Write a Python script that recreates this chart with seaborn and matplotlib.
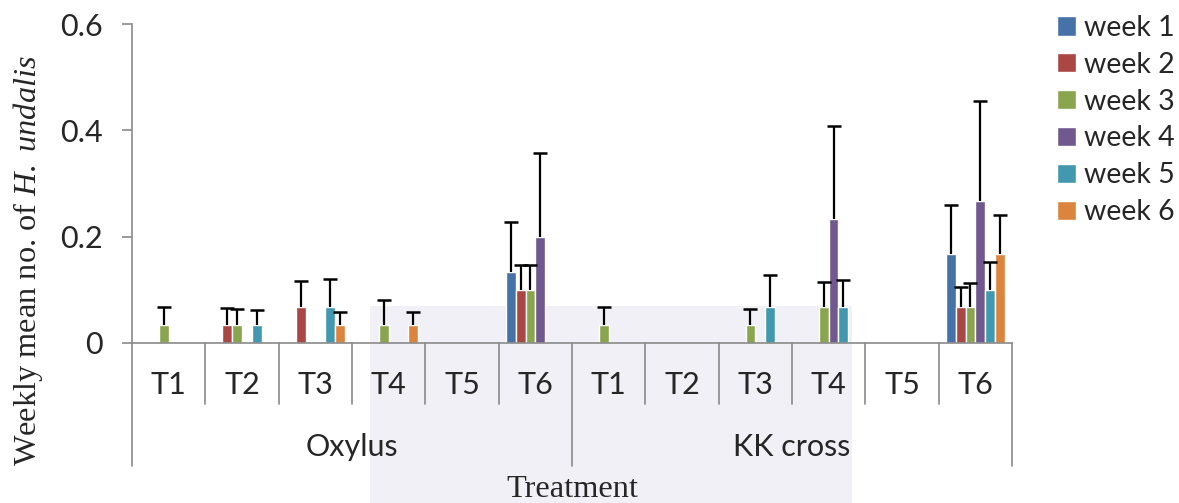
import numpy as np
import pandas as pd
import matplotlib
matplotlib.use("Agg")
import matplotlib.pyplot as plt
import seaborn as sns
from matplotlib.patches import Rectangle
from matplotlib.transforms import blended_transform_factory

# ---------------- data ----------------
treatments = ["T1", "T2", "T3", "T4", "T5", "T6"]
crosses = ["Oxylus", "KK cross"]
weeks = ["week 1", "week 2", "week 3", "week 4", "week 5", "week 6"]

#          Oxylus T1..T6                      KK cross T1..T6
week1 = [0, 0, 0, 0, 0, 0.133,              0, 0, 0, 0, 0, 0.167]
week2 = [0, 0.033, 0.067, 0, 0, 0.100,      0, 0, 0, 0, 0, 0.067]
week3 = [0.033, 0.033, 0, 0.033, 0, 0.100,  0.033, 0, 0.033, 0.067, 0, 0.067]
week4 = [0, 0, 0, 0, 0, 0.200,              0, 0, 0, 0.233, 0, 0.267]
week5 = [0, 0.033, 0.067, 0, 0, 0,          0, 0, 0.067, 0.067, 0, 0.100]
week6 = [0, 0, 0.033, 0.033, 0, 0,          0, 0, 0, 0, 0, 0.167]

err1 = [0, 0, 0, 0, 0, 0.095,               0, 0, 0, 0, 0, 0.092]
err2 = [0, 0.032, 0.050, 0, 0, 0.047,       0, 0, 0, 0, 0, 0.038]
err3 = [0.034, 0.031, 0, 0.048, 0, 0.046,   0.035, 0, 0.031, 0.048, 0, 0.046]
err4 = [0, 0, 0, 0, 0, 0.157,               0, 0, 0, 0.176, 0, 0.189]
err5 = [0, 0.029, 0.054, 0, 0, 0,           0, 0, 0.060, 0.051, 0, 0.052]
err6 = [0, 0, 0.025, 0.025, 0, 0,           0, 0, 0, 0, 0, 0.074]

values = [week1, week2, week3, week4, week5, week6]
errors = [err1, err2, err3, err4, err5, err6]
colors = ["#4572A7", "#AA4643", "#89A54E", "#71588F", "#4198AF", "#DB843D"]

group_order = [f"{c} {t}" for c in crosses for t in treatments]
rows = []
for w, wk in enumerate(weeks):
    for i, g in enumerate(group_order):
        rows.append({"group": g, "week": wk, "value": values[w][i]})
df = pd.DataFrame(rows)

# ---------------- style ----------------
sns.set_style("white")
plt.rcParams["font.family"] = ["Lato", "DejaVu Sans"]
plt.rcParams["mathtext.fontset"] = "custom"
plt.rcParams["mathtext.rm"] = "Liberation Serif"
plt.rcParams["mathtext.it"] = "Liberation Serif:italic"

FS = 22
FS_LEG = 20.5
FS_SERIF = 23.3
GREY = "#8a8a8a"

fig = plt.figure(figsize=(11.79, 5.03), dpi=100)
fig.patch.set_facecolor("white")
# faint background panel seen behind the lower middle of the chart
fig.patches.append(Rectangle((370 / 1179, 0), (852 - 370) / 1179, (503 - 306) / 503,
                             transform=fig.transFigure, facecolor="#F1F0F6",
                             edgecolor="none", zorder=-5))

ax = fig.add_axes([132 / 1179, 1 - 343 / 503, (1012 - 132) / 1179, (343 - 24) / 503])
ax.set_facecolor("none")
ax.set_zorder(2)

sns.barplot(data=df, x="group", y="value", hue="week", order=group_order,
            hue_order=weeks, palette=colors, saturation=1, errorbar=None,
            width=0.8, ax=ax, zorder=2)

# upper-only error bars
for w, cont in enumerate(ax.containers):
    for i, p in enumerate(cont):
        e = errors[w][i]
        if e > 0:
            xc = p.get_x() + p.get_width() / 2
            y = p.get_height()
            ax.vlines(xc, y, y + e, color="black", lw=1.6, zorder=3)
            ax.plot([xc], [y + e], marker="_", markersize=9.5, mew=1.8,
                    color="black", zorder=3)

ax.set_xlim(-0.5, len(group_order) - 0.5)
ax.set_ylim(0, 0.6)
ax.set_yticks([0, 0.2, 0.4, 0.6])
ax.set_yticklabels(["0", "0.2", "0.4", "0.6"], fontsize=FS)
ax.set_xticks([])
ax.set_xlabel("")
ax.set_ylabel("")
ax.tick_params(axis="y", direction="out", length=7, width=1.2, color=GREY, pad=14,
               left=True)
for s in ["top", "right"]:
    ax.spines[s].set_visible(False)
for s in ["left", "bottom"]:
    ax.spines[s].set_color(GREY)
    ax.spines[s].set_linewidth(1.2)

# multi-level category axis
tr = blended_transform_factory(ax.transData, ax.transAxes)
n = len(group_order)
for k in range(n + 1):
    xb = k - 0.5
    depth = -0.385 if k % 6 == 0 else -0.191
    ax.plot([xb, xb], [0, depth], color=GREY, lw=1.2, transform=tr, clip_on=False)
for i, g in enumerate(group_order):
    ax.text(i, -0.160, treatments[i % 6], transform=tr, ha="center", va="baseline",
            fontsize=FS)
for c, cross in enumerate(crosses):
    ax.text(c * 6 + 2.5, -0.354, cross, transform=tr, ha="center", va="baseline",
            fontsize=FS)

fig.text(572 / 1179, 6 / 503, "Treatment", ha="center", va="baseline",
         family="Liberation Serif", fontsize=FS_SERIF)
fig.text(28 / 1179, 1 - 261 / 503, r"Weekly mean no. of $\mathit{H.\ undalis}$",
         rotation=90, ha="center", va="center", family="Liberation Serif",
         fontsize=FS_SERIF)

handles, labels = ax.get_legend_handles_labels()
ax.legend(handles, labels, loc="upper left",
          bbox_to_anchor=(1057 / 1179, 1 - 15 / 503), bbox_transform=fig.transFigure,
          frameon=False, fontsize=FS_LEG, handlelength=0.65, handleheight=0.65,
          handletextpad=0.3, labelspacing=0.38, borderpad=0, borderaxespad=0)

fig.savefig("out.png", dpi=100, facecolor="white")
